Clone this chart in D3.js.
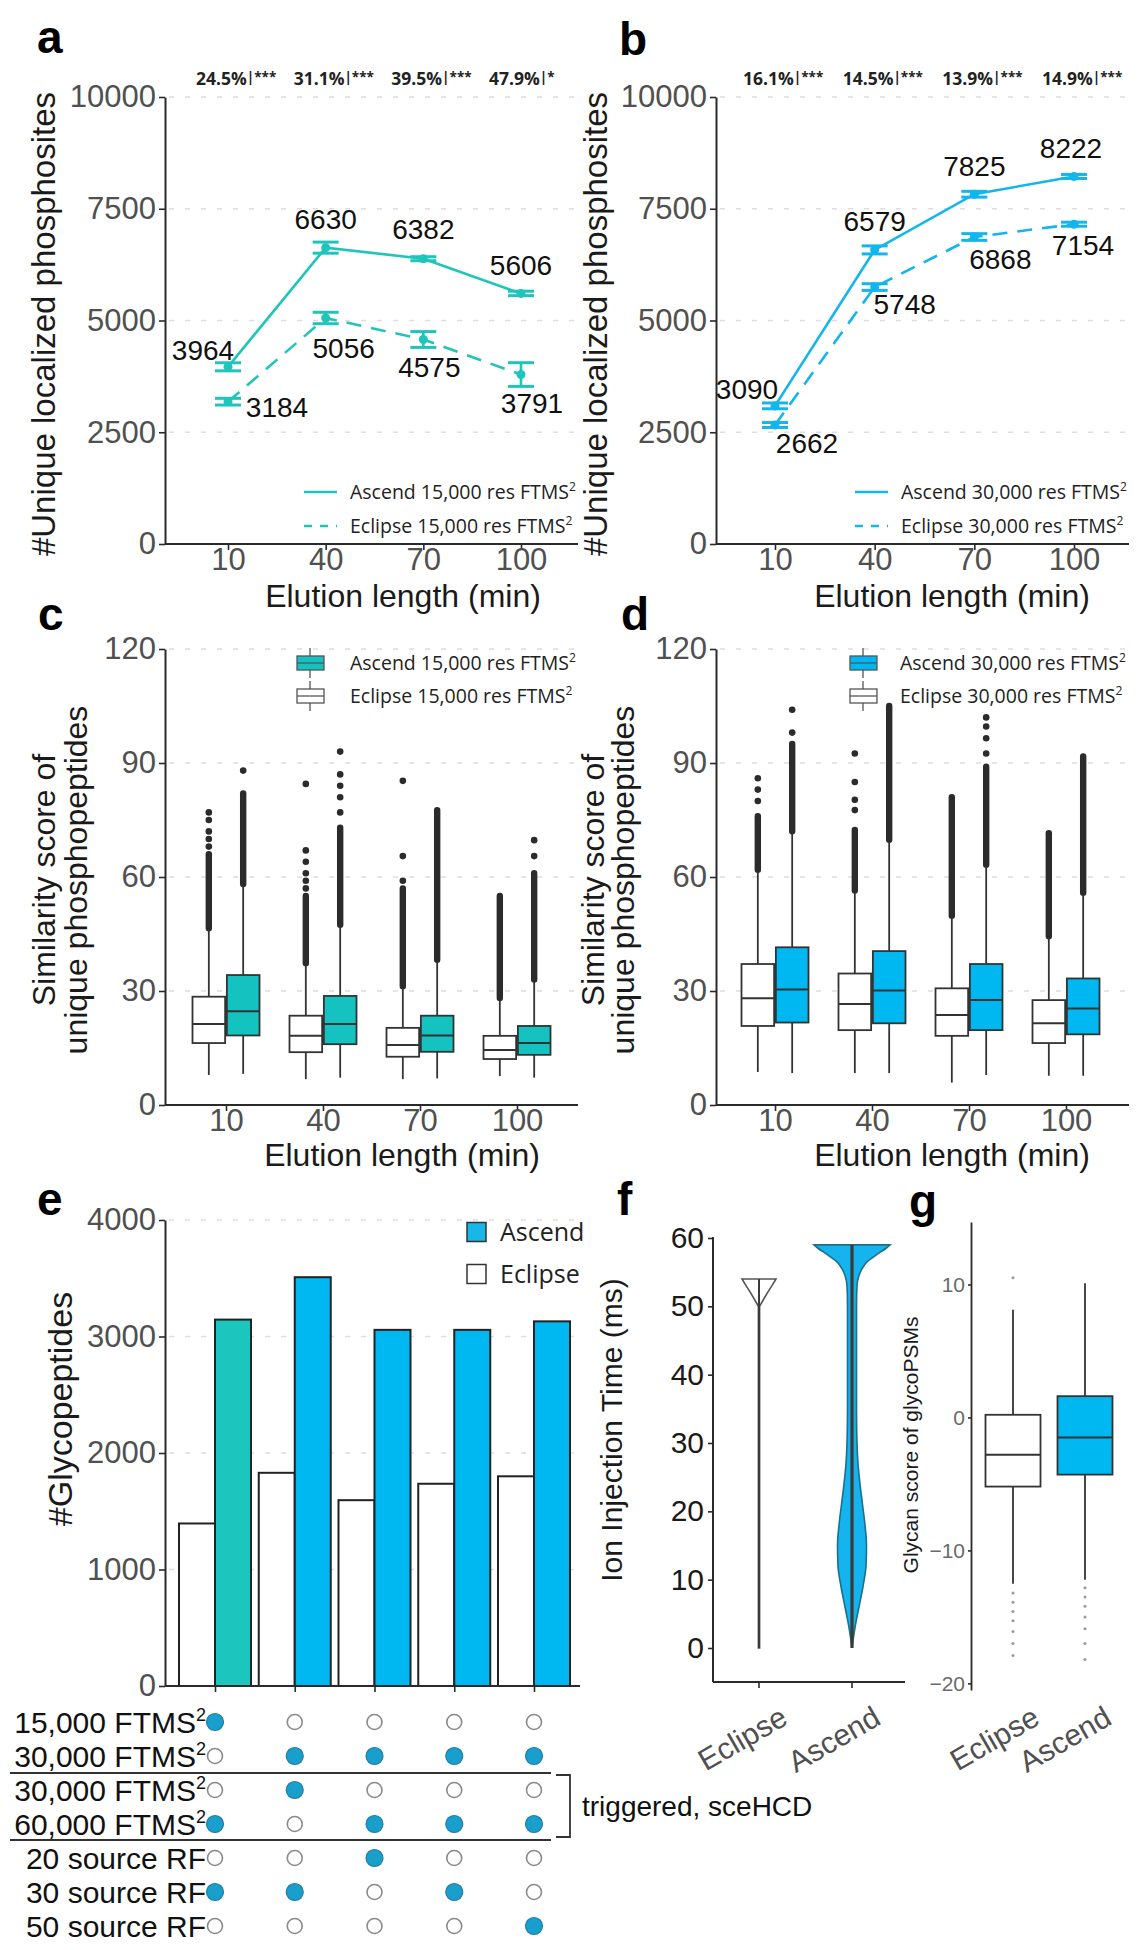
<!DOCTYPE html>
<html><head><meta charset="utf-8">
<script src="https://cdn.jsdelivr.net/npm/d3@7"></script>
<style>body{margin:0;background:#fff}svg{display:block}</style>
</head><body><script>
// ---------------- DATA ----------------
const elution = [10, 40, 70, 100];
const phosphoTicks = [0, 2500, 5000, 7500, 10000];
const aAscend = [3964, 6630, 6382, 5606];
const aAscendErr = [90, 124, 45, 50];
const aEclipse = [3184, 5056, 4575, 3791];
const aEclipseErr = [75, 128, 177, 265];
const aPct = ["24.5%", "31.1%", "39.5%", "47.9%"];
const aSig = ["***", "***", "***", "*"];
const bAscend = [3090, 6579, 7825, 8222];
const bAscendErr = [65, 90, 65, 45];
const bEclipse = [2662, 5748, 6868, 7154];
const bEclipseErr = [55, 75, 75, 45];
const bPct = ["16.1%", "14.5%", "13.9%", "14.9%"];
const bSig = ["***", "***", "***", "***"];

const scoreTicks = [0, 30, 60, 90, 120];
// box stats: [lower whisker, Q1, median, Q3, upper whisker]
const cEclipseBox = [[7.9,16.3,21.3,28.5,46],[6.8,13.9,18.2,23.5,36.8],[6.8,12.7,15.8,20.3,30.7],[7.6,12.1,14.5,18.2,27.6]];
const cEclipseDenseTop = [66, 55, 57, 55];
const cEclipseOutliers = [[68,70,72,75,77],[57,59,61,64,67,84.5],[59,65.5,85.3],[]];
const cAscendBox = [[8.2,18.3,24.7,34.2,57.6],[7.2,16,21.3,28.7,46.9],[7,14,18.3,23.5,37.7],[7.2,13.2,16.3,20.8,32.5]];
const cAscendDenseTop = [82, 73, 77.6, 61];
const cAscendOutliers = [[88],[77,81,84,87,93],[],[65.5,69.7]];
const dEclipseBox = [[8.7,20.8,28.1,37.1,61.4],[8.4,19.7,26.6,34.6,55.9],[5.9,18.2,23.7,30.7,49.3],[7.7,16.3,21.5,27.6,43.9]];
const dEclipseDenseTop = [76, 72.4, 81, 71.5];
const dEclipseOutliers = [[80,83,86],[77.6,80.3,85,92.5],[],[]];
const dAscendBox = [[8.4,21.7,30.4,41.5,71.5],[8.4,21.5,30.1,40.5,69.3],[7.9,19.7,27.6,37.1,62.7],[7.7,18.6,25.4,33.3,55.3]];
const dAscendDenseTop = [95, 105, 89, 91.7];
const dAscendOutliers = [[98,104],[],[92.5,96.5,99.6,102],[]];

const glycoMethods = ["M1", "M2", "M3", "M4", "M5"];
const glycoEclipse = [1395, 1830, 1595, 1736, 1800];
const glycoAscend = [3145, 3509, 3057, 3057, 3130];
const glycoAscendRes = ["15,000", "30,000", "30,000", "30,000", "30,000"];
const glycoTicks = [0, 1000, 2000, 3000, 4000];
const settingRows = ["15,000 FTMS", "30,000 FTMS", "30,000 FTMS", "60,000 FTMS", "20 source RF", "30 source RF", "50 source RF"];
const settingSup = ["2", "2", "2", "2", "", "", ""];
const settingMatrix = [[1,0,0,0,0],[0,1,1,1,1],[0,1,0,0,0],[1,0,1,1,1],[0,0,1,0,0],[1,1,0,1,0],[0,0,0,0,1]];

const instruments = ["Eclipse", "Ascend"];
const injTicks = [0, 10, 20, 30, 40, 50, 60];
const eclipseViolinLevels = [0, 50, 51, 52, 53, 54];
const eclipseViolinHalf = [0.6, 0.6, 4.5, 8.5, 12.8, 17];
const ascendViolinLevels = [0, 3, 6, 9, 12, 15, 18, 21, 24, 27, 30, 35, 40, 45, 50, 53, 54.5, 55.5, 56.5, 57.5, 58.5, 59];
const ascendViolinHalf = [0, 3, 7, 11, 14, 14.5, 13, 10.5, 8, 6, 5, 4.5, 4.5, 4.5, 4.5, 5, 7, 10, 15, 24, 34, 38];
const eclipseViolinMax = 54, ascendViolinMax = 59;

const glycanTicks = [-20, -10, 0, 10];
const glycanEclipseBox = [-12.5, -5.2, -2.8, 0.2, 8.1];
const glycanAscendBox = [-12.2, -4.3, -1.5, 1.6, 10.1];
const glycanEclipseOutliers = [10.5, -13.2, -13.9, -14.6, -15.3, -16.1, -17, -17.9];
const glycanAscendOutliers = [-12.8, -13.5, -14.2, -15, -15.9, -17, -18.2];

// ---------------- STYLE ----------------
const W = 1148, H = 1950;
const SANS = '"Liberation Sans", Arial, sans-serif';
const OPEN = '"Open Sans", sans-serif';
const GREY = "#505050", AX = "#2a2a2a", INK = "#1a1a1a";
const TEAL = "#1fc5bb", SKY = "#12b6ec", BOXTEAL = "#14c2bf", BLUE = "#00b8f1", DOT = "#1a9fcd";
const intFmt = d3.format("d");

const svg = d3.select("body").append("svg").attr("width", W).attr("height", H)
  .attr("font-family", SANS);

function styleAxis(sel, fs, col) {
  sel.attr("font-size", null).attr("font-family", null);
  sel.select(".domain").attr("stroke", AX).attr("stroke-width", 2);
  sel.selectAll(".tick line").attr("stroke", AX).attr("stroke-width", 1.6);
  sel.selectAll(".tick text").attr("font-size", fs).attr("fill", col).attr("font-family", SANS);
}
function letter(t, x, y) {
  svg.append("text").attr("x", x).attr("y", y).attr("font-size", 46).attr("font-weight", "bold")
    .attr("fill", "#000").text(t);
}
function vTitle(lines, x0, dx, cy, fs) {
  lines.forEach((t, i) => {
    svg.append("text").attr("transform", `translate(${x0 + i * dx},${cy}) rotate(-90)`)
      .attr("text-anchor", "middle").attr("font-size", fs).attr("fill", INK).text(t);
  });
}
function ftmsText(sel, base, fs) {
  sel.append("tspan").text(base);
  sel.append("tspan").attr("font-size", fs * 0.62).attr("dy", -fs * 0.38).text("2");
}

// ---------------- PANELS a, b ----------------
function linePanel(o) {
  const g = svg.append("g");
  const y = d3.scaleLinear().domain([0, 10000]).range([544, 97]);
  const x = d3.scaleLinear().domain([10, 100]).range(o.pts);
  g.selectAll("line.grid").data(phosphoTicks.filter(d => d > 0)).join("line")
    .attr("x1", o.axisX[0] + 4).attr("x2", o.axisX[1]).attr("y1", d => y(d)).attr("y2", d => y(d))
    .attr("stroke", "#dedede").attr("stroke-width", 1.5).attr("stroke-dasharray", "5,11");
  const ya = g.append("g").attr("transform", `translate(${o.axisX[0]},0)`)
    .call(d3.axisLeft(y).tickValues(phosphoTicks).tickFormat(intFmt).tickSize(6).tickPadding(3).tickSizeOuter(0));
  styleAxis(ya, 31, GREY);
  const xa = g.append("g").attr("transform", "translate(0,544)")
    .call(d3.axisBottom(x).tickValues(elution).tickSize(6).tickPadding(-2).tickSizeOuter(0));
  xa.select(".domain").remove();
  styleAxis(xa, 31, GREY);
  g.append("line").attr("x1", o.axisX[0]).attr("x2", o.axisX[1]).attr("y1", 544).attr("y2", 544)
    .attr("stroke", AX).attr("stroke-width", 2);
  g.append("text").attr("x", o.elutionX).attr("y", 607).attr("text-anchor", "middle")
    .attr("font-size", 32).attr("fill", INK).text("Elution length (min)");

  const line = d3.line().x((d, i) => x(elution[i])).y(d => y(d));
  const series = [
    { v: o.ascend, e: o.ascendErr, dash: null, off: o.ascOff },
    { v: o.eclipse, e: o.eclipseErr, dash: "15,10", off: o.eclOff }];
  series.forEach(s => {
    g.append("path").datum(s.v).attr("d", line).attr("fill", "none").attr("stroke", o.color)
      .attr("stroke-width", 2.6).attr("stroke-dasharray", s.dash);
    s.v.forEach((v, i) => {
      const cx = x(elution[i]);
      g.append("line").attr("x1", cx).attr("x2", cx).attr("y1", y(v - s.e[i])).attr("y2", y(v + s.e[i]))
        .attr("stroke", o.color).attr("stroke-width", 2.6);
      [v - s.e[i], v + s.e[i]].forEach(c => g.append("line").attr("x1", cx - 13).attr("x2", cx + 13)
        .attr("y1", y(c)).attr("y2", y(c)).attr("stroke", o.color).attr("stroke-width", 3));
      g.append("circle").attr("cx", cx).attr("cy", y(v)).attr("r", 4.5).attr("fill", o.color);
      g.append("text").attr("x", cx + s.off[i][0]).attr("y", y(v) + s.off[i][1]).attr("dy", "0.36em")
        .attr("text-anchor", "middle").attr("font-size", 28).attr("fill", "#111").text(v);
    });
  });
  // significance row
  o.pct.forEach((p, i) => {
    const t = g.append("text").attr("x", x(elution[i]) - 32).attr("y", 85)
      .attr("font-family", OPEN).attr("font-weight", 700).attr("font-size", 17.5).attr("fill", "#222");
    t.append("tspan").text(p);
    t.append("tspan").attr("font-size", 13.5).attr("dy", -3).text("|" + o.sig[i]);
  });
  // legend
  const leg = [{ dash: null, label: "Ascend " + o.res + " res FTMS" }, { dash: "8,8", label: "Eclipse  " + o.res + " res FTMS" }];
  leg.forEach((l, i) => {
    const cy = 492 + i * 34;
    g.append("line").attr("x1", o.legX).attr("x2", o.legX + 33).attr("y1", cy).attr("y2", cy)
      .attr("stroke", o.color).attr("stroke-width", 2.4).attr("stroke-dasharray", l.dash);
    const t = g.append("text").attr("x", o.legX + 46).attr("y", cy).attr("dy", "0.35em")
      .attr("font-family", OPEN).attr("font-size", 19.5).attr("fill", "#222");
    ftmsText(t, l.label, 19.5);
  });
}

linePanel({ ascend: aAscend, ascendErr: aAscendErr, eclipse: aEclipse, eclipseErr: aEclipseErr,
  pct: aPct, sig: aSig, color: TEAL, pts: [228, 521], axisX: [165, 578], elutionX: 403,
  res: "15,000", legX: 304,
  ascOff: [[-25, -17], [0, -29], [0, -30], [0, -28]], eclOff: [[49, 5], [18, 30], [6, 27], [11, 28]] });
linePanel({ ascend: bAscend, ascendErr: bAscendErr, eclipse: bEclipse, eclipseErr: bEclipseErr,
  pct: bPct, sig: bSig, color: SKY, pts: [775, 1074], axisX: [716, 1129], elutionX: 952,
  res: "30,000", legX: 855,
  ascOff: [[-28, -17], [0, -29], [0, -28], [-3, -29]], eclOff: [[32, 18], [30, 17], [26, 22], [9, 21]] });

letter("a", 37, 53); letter("b", 619, 55);
vTitle(["#Unique localized phosphosites"], 55, 0, 324, 33);
vTitle(["#Unique localized phosphosites"], 607, 0, 324, 33);

// ---------------- PANELS c, d ----------------
function boxPanel(o) {
  const g = svg.append("g");
  const y = d3.scaleLinear().domain([0, 120]).range([1105, 649]);
  const gx = d3.scalePoint().domain(elution).range(o.groups);
  const inner = d3.scaleBand().domain(instruments).range([-33.5, 33.5]).paddingInner(0.05);
  g.selectAll("line.grid").data(scoreTicks.filter(d => d > 0)).join("line")
    .attr("x1", o.axisX[0] + 4).attr("x2", o.axisX[1]).attr("y1", d => y(d)).attr("y2", d => y(d))
    .attr("stroke", "#dedede").attr("stroke-width", 1.5).attr("stroke-dasharray", "5,11");
  const ya = g.append("g").attr("transform", `translate(${o.axisX[0]},0)`)
    .call(d3.axisLeft(y).tickValues(scoreTicks).tickSize(6).tickPadding(3).tickSizeOuter(0));
  styleAxis(ya, 31, GREY);
  const xa = g.append("g").attr("transform", "translate(0,1105)")
    .call(d3.axisBottom(gx).tickSize(6).tickPadding(-2).tickSizeOuter(0));
  xa.select(".domain").remove();
  styleAxis(xa, 31, GREY);
  g.append("line").attr("x1", o.axisX[0]).attr("x2", o.axisX[1]).attr("y1", 1105).attr("y2", 1105)
    .attr("stroke", AX).attr("stroke-width", 2);
  g.append("text").attr("x", o.elutionX).attr("y", 1166).attr("text-anchor", "middle")
    .attr("font-size", 32).attr("fill", INK).text("Elution length (min)");
  const series = [
    { key: "Eclipse", box: o.eBox, dense: o.eDense, out: o.eOut, fill: "#fff" },
    { key: "Ascend", box: o.aBox, dense: o.aDense, out: o.aOut, fill: o.color }];
  series.forEach(s => {
    s.box.forEach((b, i) => {
      const x0 = gx(elution[i]) + inner(s.key), w = inner.bandwidth(), cx = x0 + w / 2;
      const [lo, q1, med, q3, hi] = b;
      g.append("line").attr("x1", cx).attr("x2", cx).attr("y1", y(hi) - 2).attr("y2", y(s.dense[i]))
        .attr("stroke", "#2b2b2b").attr("stroke-width", 6.4).attr("stroke-linecap", "round");
      s.out[i].forEach(v => g.append("circle").attr("cx", cx).attr("cy", y(v)).attr("r", 3.3).attr("fill", "#2b2b2b"));
      g.append("line").attr("x1", cx).attr("x2", cx).attr("y1", y(lo)).attr("y2", y(q1)).attr("stroke", "#333").attr("stroke-width", 1.8);
      g.append("line").attr("x1", cx).attr("x2", cx).attr("y1", y(q3)).attr("y2", y(hi)).attr("stroke", "#333").attr("stroke-width", 1.8);
      g.append("rect").attr("x", x0).attr("y", y(q3)).attr("width", w).attr("height", y(q1) - y(q3))
        .attr("fill", s.fill).attr("stroke", "#333").attr("stroke-width", 1.8);
      g.append("line").attr("x1", x0).attr("x2", x0 + w).attr("y1", y(med)).attr("y2", y(med)).attr("stroke", "#333").attr("stroke-width", 2);
    });
  });
  // legend
  [{ fill: o.color, label: "Ascend " + o.res + " res FTMS" }, { fill: "#fff", label: "Eclipse  " + o.res + " res FTMS" }]
    .forEach((l, i) => {
      const cy = 663 + i * 33, lx = o.legX;
      g.append("line").attr("x1", lx + 13).attr("x2", lx + 13).attr("y1", cy - 15).attr("y2", cy + 15).attr("stroke", "#555").attr("stroke-width", 1.3);
      g.append("rect").attr("x", lx).attr("y", cy - 7).attr("width", 27).attr("height", 14).attr("fill", l.fill).attr("stroke", "#555").attr("stroke-width", 1.3);
      g.append("line").attr("x1", lx).attr("x2", lx + 27).attr("y1", cy).attr("y2", cy).attr("stroke", "#555").attr("stroke-width", 1.3);
      const t = g.append("text").attr("x", o.legTextX).attr("y", cy).attr("dy", "0.35em")
        .attr("font-family", OPEN).attr("font-size", 19.5).attr("fill", "#222");
      ftmsText(t, l.label, 19.5);
    });
}
boxPanel({ groups: [226, 517], axisX: [165, 578], elutionX: 402, color: BOXTEAL, res: "15,000",
  eBox: cEclipseBox, eDense: cEclipseDenseTop, eOut: cEclipseOutliers,
  aBox: cAscendBox, aDense: cAscendDenseTop, aOut: cAscendOutliers, legX: 297, legTextX: 350 });
boxPanel({ groups: [775, 1066], axisX: [716, 1129], elutionX: 952, color: BLUE, res: "30,000",
  eBox: dEclipseBox, eDense: dEclipseDenseTop, eOut: dEclipseOutliers,
  aBox: dAscendBox, aDense: dAscendDenseTop, aOut: dAscendOutliers, legX: 850, legTextX: 900 });
letter("c", 38, 630); letter("d", 621, 630);
vTitle(["Similarity score of", "unique phosphopeptides"], 55, 32, 880, 32);
vTitle(["Similarity score of", "unique phosphopeptides"], 604, 30, 880, 32);

// ---------------- PANEL e ----------------
(function () {
  const g = svg.append("g");
  const y = d3.scaleLinear().domain([0, 4000]).range([1686, 1220]);
  const x = d3.scalePoint().domain(glycoMethods).range([215, 534]);
  const inner = d3.scaleBand().domain(instruments).range([-36, 36]);
  g.selectAll("line.grid").data(glycoTicks.filter(d => d > 0)).join("line")
    .attr("x1", 169).attr("x2", 578).attr("y1", d => y(d)).attr("y2", d => y(d))
    .attr("stroke", "#dedede").attr("stroke-width", 1.5).attr("stroke-dasharray", "5,11");
  const ya = g.append("g").attr("transform", "translate(165,0)")
    .call(d3.axisLeft(y).tickValues(glycoTicks).tickFormat(intFmt).tickSize(6).tickPadding(3).tickSizeOuter(0));
  styleAxis(ya, 31, GREY);
  glycoMethods.forEach((m, i) => {
    g.append("rect").attr("x", x(m) + inner("Eclipse")).attr("y", y(glycoEclipse[i]))
      .attr("width", inner.bandwidth()).attr("height", y(0) - y(glycoEclipse[i]))
      .attr("fill", "#fff").attr("stroke", "#222").attr("stroke-width", 2);
    g.append("rect").attr("x", x(m) + inner("Ascend")).attr("y", y(glycoAscend[i]))
      .attr("width", inner.bandwidth()).attr("height", y(0) - y(glycoAscend[i]))
      .attr("fill", glycoAscendRes[i] === "15,000" ? "#1cc6be" : BLUE).attr("stroke", "#222").attr("stroke-width", 2);
  });
  const xa = g.append("g").attr("transform", "translate(0,1686)")
    .call(d3.axisBottom(x).tickSize(6).tickFormat("").tickSizeOuter(0));
  xa.select(".domain").remove();
  styleAxis(xa, 31, GREY);
  g.append("line").attr("x1", 165).attr("x2", 580).attr("y1", 1686).attr("y2", 1686).attr("stroke", AX).attr("stroke-width", 2);
  // legend
  [{ f: "#17b7e8", t: "Ascend" }, { f: "#fff", t: "Eclipse" }].forEach((l, i) => {
    const cy = 1232 + i * 42;
    g.append("rect").attr("x", 467).attr("y", cy - 9.5).attr("width", 19).attr("height", 19)
      .attr("fill", l.f).attr("stroke", "#333").attr("stroke-width", 1.5);
    g.append("text").attr("x", 500).attr("y", cy).attr("dy", "0.36em").attr("font-family", OPEN)
      .attr("font-size", 25).attr("fill", "#222").text(l.t);
  });
  // settings table
  const rowY = d3.scalePoint().domain(d3.range(settingRows.length)).range([1722, 1926]);
  settingRows.forEach((r, i) => {
    const t = g.append("text").attr("x", 206).attr("y", rowY(i)).attr("dy", "0.36em")
      .attr("text-anchor", "end").attr("font-size", 30).attr("fill", "#111");
    t.append("tspan").text(r);
    if (settingSup[i]) t.append("tspan").attr("font-size", 18).attr("dy", -12).text(settingSup[i]);
    settingMatrix[i].forEach((on, j) => {
      g.append("circle").attr("cx", x(glycoMethods[j])).attr("cy", rowY(i)).attr("r", on ? 8.5 : 7.5)
        .attr("fill", on ? DOT : "#fff").attr("stroke", on ? "#1d7fa6" : "#8a8a8a").attr("stroke-width", on ? 1.2 : 1.6);
    });
  });
  [1773, 1840].forEach(yy => g.append("line").attr("x1", 10).attr("x2", 551).attr("y1", yy).attr("y2", yy)
    .attr("stroke", "#333").attr("stroke-width", 1.8));
  g.append("path").attr("d", "M556,1775H570V1837H556").attr("fill", "none").attr("stroke", "#333").attr("stroke-width", 1.8);
  g.append("text").attr("x", 582).attr("y", 1806).attr("dy", "0.36em").attr("font-size", 28).attr("fill", "#111")
    .text("triggered, sceHCD");
})();
letter("e", 37, 1215);
vTitle(["#Glycopeptides"], 72, 0, 1409, 34);

// ---------------- PANEL f ----------------
(function () {
  const g = svg.append("g");
  const y = d3.scaleLinear().domain([0, 60]).range([1648, 1238]);
  const x = d3.scalePoint().domain(instruments).range([759, 852]);
  const ya = g.append("g").attr("transform", "translate(713,0)")
    .call(d3.axisLeft(y).tickValues(injTicks).tickSize(5).tickPadding(4).tickSizeOuter(0));
  ya.select(".domain").remove();
  styleAxis(ya, 30, "#1a1a1a");
  g.append("line").attr("x1", 713).attr("x2", 713).attr("y1", 1237).attr("y2", 1682).attr("stroke", AX).attr("stroke-width", 2);
  g.append("line").attr("x1", 713).attr("x2", 905).attr("y1", 1682).attr("y2", 1682).attr("stroke", AX).attr("stroke-width", 2);
  instruments.forEach(k => g.append("line").attr("x1", x(k)).attr("x2", x(k)).attr("y1", 1682).attr("y2", 1688).attr("stroke", AX).attr("stroke-width", 1.6));
  const violins = [
    { k: "Eclipse", lv: eclipseViolinLevels, hw: eclipseViolinHalf, fill: "#fff", stroke: "#555", curve: d3.curveLinear, top: eclipseViolinMax, lw: 2 },
    { k: "Ascend", lv: ascendViolinLevels, hw: ascendViolinHalf, fill: "#15b4ee", stroke: "#1b6f8f", curve: d3.curveMonotoneY, top: ascendViolinMax, lw: 3.2 }];
  violins.forEach(v => {
    const cx = x(v.k);
    const area = d3.area().curve(v.curve).y((d, i) => y(v.lv[i])).x0((d, i) => cx - v.hw[i]).x1((d, i) => cx + v.hw[i]);
    g.append("path").datum(v.lv).attr("d", area).attr("fill", v.fill).attr("stroke", v.stroke).attr("stroke-width", 1.6);
    g.append("line").attr("x1", cx).attr("x2", cx).attr("y1", y(0)).attr("y2", y(v.top)).attr("stroke", "#3a3a3a").attr("stroke-width", v.lw);
  });
  instruments.forEach(k => g.append("text").attr("transform", `translate(${x(k) + 20},${1705}) rotate(-30)`)
    .attr("text-anchor", "end").attr("dy", "0.7em").attr("font-size", 30).attr("fill", GREY).text(k));
})();
letter("f", 617, 1215);
vTitle(["Ion Injection Time (ms)"], 622, 0, 1430, 30);

// ---------------- PANEL g ----------------
(function () {
  const g = svg.append("g");
  const y = d3.scaleLinear().domain([-20.5, 14.7]).range([1690, 1222]);
  const x = d3.scalePoint().domain(instruments).range([1013, 1085]);
  const ya = g.append("g").attr("transform", "translate(971,0)")
    .call(d3.axisLeft(y).tickValues(glycanTicks).tickSize(3).tickPadding(3).tickSizeOuter(0)
      .tickFormat(d => d < 0 ? "\u2212" + Math.abs(d) : d));
  styleAxis(ya, 21, "#6a6a6a");
  ya.select(".domain").attr("stroke-width", 1.8);
  const boxes = [{ k: "Eclipse", b: glycanEclipseBox, o: glycanEclipseOutliers, f: "#fff" },
                 { k: "Ascend", b: glycanAscendBox, o: glycanAscendOutliers, f: BLUE }];
  boxes.forEach(s => {
    const cx = x(s.k), w = 55, [lo, q1, med, q3, hi] = s.b;
    s.o.forEach(v => g.append("circle").attr("cx", cx).attr("cy", y(v)).attr("r", 1.5).attr("fill", "#9a9a9a"));
    g.append("line").attr("x1", cx).attr("x2", cx).attr("y1", y(lo)).attr("y2", y(hi)).attr("stroke", "#333").attr("stroke-width", 1.8);
    g.append("rect").attr("x", cx - w / 2).attr("y", y(q3)).attr("width", w).attr("height", y(q1) - y(q3))
      .attr("fill", s.f).attr("stroke", "#333").attr("stroke-width", 1.8);
    g.append("line").attr("x1", cx - w / 2).attr("x2", cx + w / 2).attr("y1", y(med)).attr("y2", y(med)).attr("stroke", "#333").attr("stroke-width", 2);
  });
  instruments.forEach(k => g.append("text").attr("transform", `translate(${x(k) + 18},${1705}) rotate(-30)`)
    .attr("text-anchor", "end").attr("dy", "0.7em").attr("font-size", 30).attr("fill", GREY).text(k));
})();
letter("g", 909, 1217);
vTitle(["Glycan score of glycoPSMs"], 918, 0, 1445, 21);
</script></body></html>
